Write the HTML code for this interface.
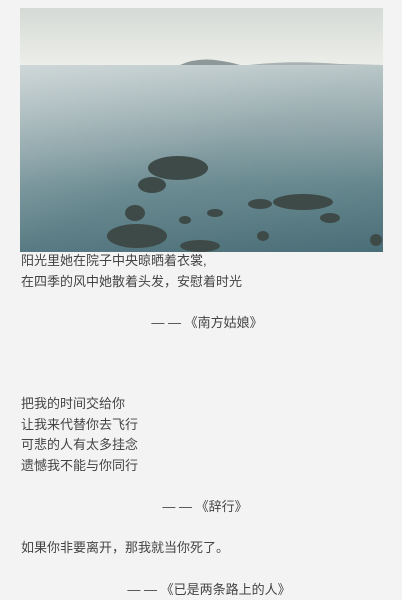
<!DOCTYPE html>
<html><head><meta charset="utf-8">
<style>
html,body{margin:0;padding:0;}
body{width:402px;height:600px;background:#f3f3f3;position:relative;overflow:hidden;font-family:"Liberation Sans","Noto Sans CJK SC",sans-serif;color:#444;}
.t{position:absolute;left:21px;font-size:13px;line-height:14px;white-space:nowrap;}
.c{position:absolute;left:0;width:402px;text-align:center;font-size:13px;line-height:14px;white-space:nowrap;}
</style></head><body>
<svg style="position:absolute;left:20px;top:8px" width="363" height="244" viewBox="0 0 363 244">
<defs>
<linearGradient id="sky" x1="0" y1="0" x2="0" y2="1"><stop offset="0" stop-color="#d5dad6"/><stop offset="1" stop-color="#eceee9"/></linearGradient>
<linearGradient id="sea" x1="0" y1="0" x2="0" y2="1"><stop offset="0" stop-color="#b4c2c3"/><stop offset="0.3" stop-color="#8ea4a8"/><stop offset="0.65" stop-color="#5f8289"/><stop offset="1" stop-color="#4a6e77"/></linearGradient>
<linearGradient id="glare" x1="0" y1="0" x2="1" y2="1"><stop offset="0" stop-color="#fff" stop-opacity="0.35"/><stop offset="0.5" stop-color="#fff" stop-opacity="0.08"/><stop offset="1" stop-color="#fff" stop-opacity="0"/></linearGradient>
</defs>
<rect width="363" height="58" fill="url(#sky)"/>
<rect y="57" width="363" height="187" fill="url(#sea)"/>
<rect y="57" width="363" height="187" fill="url(#glare)"/>
<path d="M160 57 Q175 50 195 52 Q210 54 220 57Z" fill="#8f9899"/>
<path d="M230 57 Q270 52 320 56 L363 57Z" fill="#a9b1b2"/>
<g fill="#3d4a47">
<ellipse cx="158" cy="160" rx="30" ry="12"/><ellipse cx="132" cy="177" rx="14" ry="8"/>
<ellipse cx="283" cy="194" rx="30" ry="8"/><ellipse cx="117" cy="228" rx="30" ry="12"/>
<ellipse cx="115" cy="205" rx="10" ry="8"/><ellipse cx="240" cy="196" rx="12" ry="5"/>
<ellipse cx="195" cy="205" rx="8" ry="4"/><ellipse cx="165" cy="212" rx="6" ry="4"/>
<ellipse cx="243" cy="228" rx="6" ry="5"/><ellipse cx="310" cy="210" rx="10" ry="5"/>
<ellipse cx="180" cy="238" rx="20" ry="6"/><ellipse cx="356" cy="232" rx="6" ry="6"/>
</g>
</svg>
<div class="t" style="top:254px">阳光里她在院子中央晾晒着衣裳,</div>
<div class="t" style="top:275px">在四季的风中她散着头发，安慰着时光</div>
<div class="c" style="top:316px;left:6px">— — 《南方姑娘》</div>
<div class="t" style="top:397px">把我的时间交给你</div>
<div class="t" style="top:418px">让我来代替你去飞行</div>
<div class="t" style="top:438px">可悲的人有太多挂念</div>
<div class="t" style="top:459px">遗憾我不能与你同行</div>
<div class="c" style="top:500px;left:4px">— — 《辞行》</div>
<div class="t" style="top:541px">如果你非要离开，那我就当你死了。</div>
<div class="c" style="top:583px;left:8px">— — 《已是两条路上的人》</div>
</body></html>
